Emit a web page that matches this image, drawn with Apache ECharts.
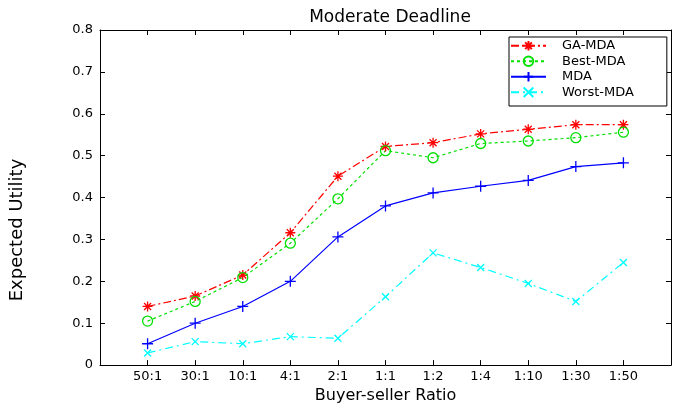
<!DOCTYPE html>
<html>
<head>
<meta charset="utf-8">
<script src="https://cdn.jsdelivr.net/npm/echarts@6/dist/echarts.min.js"></script>
<style>
  html, body { margin: 0; padding: 0; background: #fff; }
  #chart { width: 681px; height: 409px; }
</style>
</head>
<body>
<div id="chart"></div>
<script>
// Buyer-to-seller ratios along the x axis
const categories = ['50:1', '30:1', '10:1', '4:1', '2:1', '1:1', '1:2', '1:4', '1:10', '1:30', '1:50'];

// Expected utility for each strategy
const gaMda    = [0.140, 0.165, 0.215, 0.316, 0.451, 0.522, 0.531, 0.552, 0.563, 0.574, 0.574];
const bestMda  = [0.105, 0.152, 0.209, 0.291, 0.397, 0.512, 0.495, 0.529, 0.535, 0.543, 0.556];
const mda      = [0.051, 0.100, 0.140, 0.200, 0.306, 0.380, 0.411, 0.427, 0.441, 0.474, 0.483];
const worstMda = [0.029, 0.056, 0.051, 0.068, 0.064, 0.163, 0.268, 0.233, 0.195, 0.152, 0.245];

// Y tick labels
const yTicks = ['0', '0.1', '0.2', '0.3', '0.4', '0.5', '0.6', '0.7', '0.8'];

const FONT = 'DejaVu Sans';

// categories sit at x = 1..n on a 0..n+1 value scale
const toPoints = arr => arr.map((v, i) => [i + 1, v]);

const SYM_STAR = 'path://M0,5L10,5M5,0L5,10M1.5,1.5L8.5,8.5M1.5,8.5L8.5,1.5';
const SYM_PLUS = 'path://M0,5L10,5M5,0L5,10';
const SYM_X    = 'path://M0,0L10,10M0,10L10,0';

function lineSeries(name, data, color, dash, symbol, size) {
  return {
    name: name,
    type: 'line',
    data: toPoints(data),
    xAxisIndex: 0,
    yAxisIndex: 0,
    symbol: symbol,
    symbolSize: size,
    symbolKeepAspect: true,
    showAllSymbol: true,
    animation: false,
    lineStyle: { color: color, width: 1.2, type: dash },
    itemStyle: { color: 'none', borderColor: color, borderWidth: 1.3 },
    emphasis: { disabled: true }
  };
}

const chart = echarts.init(document.getElementById('chart'), null, { renderer: 'canvas' });

const tickStyle = { show: true, inside: true, length: 5, lineStyle: { color: '#000', width: 1 } };
const axisLine = { show: true, onZero: false, lineStyle: { color: '#000', width: 1 } };

chart.setOption({
  backgroundColor: '#fff',
  animation: false,
  title: {
    text: 'Moderate Deadline',
    left: 385,
    top: 4,
    textAlign: 'center',
    textStyle: { fontFamily: FONT, fontSize: 17, fontWeight: 'normal', color: '#000' }
  },
  grid: { left: 100, right: 10, top: 30, bottom: 41 },
  legend: {
    orient: 'vertical',
    left: 509,
    top: 37,
    padding: [1, 33, 6, 1],
    itemWidth: 35,
    itemHeight: 12,
    itemGap: 0,
    backgroundColor: '#fff',
    borderColor: '#000',
    borderWidth: 1,
    textStyle: { fontFamily: FONT, fontSize: 13, lineHeight: 15.5, color: '#000', padding: [0, 0, 0, 11] },
    data: ['GA-MDA', 'Best-MDA', 'MDA', 'Worst-MDA']
  },
  xAxis: [
    {
      type: 'value', position: 'bottom', min: 0, max: categories.length + 1, interval: 1,
      axisLine: axisLine, axisTick: tickStyle, splitLine: { show: false },
      axisLabel: {
        fontFamily: FONT, fontSize: 13, color: '#000', margin: 5,
        formatter: v => categories[v - 1] || ''
      },
      name: 'Buyer-seller Ratio', nameLocation: 'middle', nameGap: 21,
      nameTextStyle: { fontFamily: FONT, fontSize: 16, color: '#000' }
    },
    {
      type: 'value', position: 'top', min: 0, max: categories.length + 1, interval: 1,
      axisLine: axisLine, axisTick: tickStyle, splitLine: { show: false },
      axisLabel: { show: false }
    }
  ],
  yAxis: [
    {
      type: 'value', position: 'left', min: 0, max: 0.8, interval: 0.1,
      axisLine: axisLine, axisTick: tickStyle, splitLine: { show: false },
      axisLabel: {
        fontFamily: FONT, fontSize: 13, color: '#000', margin: 7,
        formatter: (v) => yTicks[Math.round(v * 10)]
      }
    },
    {
      type: 'value', position: 'right', min: 0, max: 0.8, interval: 0.1,
      axisLine: axisLine, axisTick: tickStyle, splitLine: { show: false },
      axisLabel: { show: false }
    }
  ],
  graphic: [
    {
      type: 'text',
      x: 17, y: 230,
      rotation: Math.PI / 2,
      style: {
        text: 'Expected Utility',
        fontFamily: FONT, fontSize: 18, fill: '#000',
        align: 'center', verticalAlign: 'middle'
      }
    }
  ],
  series: [
    lineSeries('GA-MDA', gaMda, '#ff0000', [8, 3, 2, 3], SYM_STAR, 10),
    lineSeries('Best-MDA', bestMda, '#00e000', [3, 3], 'circle', 10),
    lineSeries('MDA', mda, '#0000ff', 'solid', SYM_PLUS, 11),
    lineSeries('Worst-MDA', worstMda, '#00ffff', [8, 4, 2, 4], SYM_X, 7)
  ]
});
</script>
</body>
</html>
